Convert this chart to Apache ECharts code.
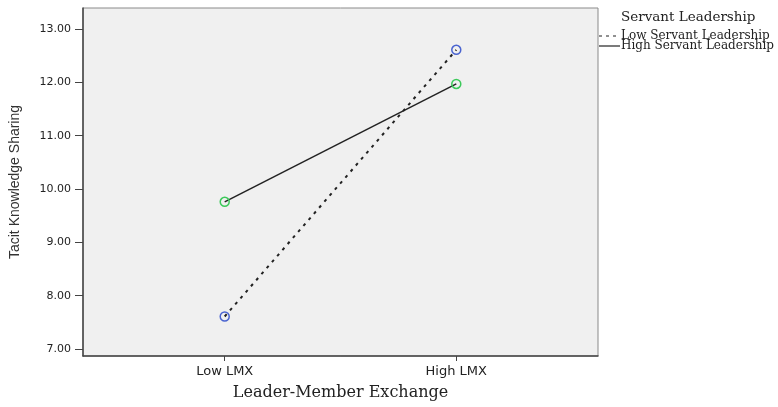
<!DOCTYPE html>
<html>
<head>
<meta charset="utf-8">
<script src="https://cdn.jsdelivr.net/npm/echarts@6/dist/echarts.min.js"></script>
<style>html,body{margin:0;padding:0;background:#fff}#c{width:778px;height:407px}</style>
</head>
<body>
<div id="c"></div>
<script>
const categories = ['Low LMX', 'High LMX'];
const lowServant = [7.61, 12.61];
const highServant = [9.76, 11.97];
const yTicks = [7, 8, 9, 10, 11, 12, 13];
const seriesNames = ['Low Servant Leadership', 'High Servant Leadership'];

const chart = echarts.init(document.getElementById('c'), null, {renderer: 'canvas'});
const toPts = arr => arr.map((v, i) => [i, v]);
const xTickVals = categories.map((c, i) => i);

const serif = 'DejaVu Serif';
chart.setOption({
  animation: false,
  backgroundColor: '#ffffff',
  grid: {left: 82, right: 180, top: 8, bottom: 51, show: true, backgroundColor: '#f0f0f0', borderColor: '#8a8a8a', borderWidth: 1},
  xAxis: {
    type: 'value', min: -0.612, max: 1.612,
    name: 'Leader-Member Exchange', nameLocation: 'middle', nameGap: 29,
    nameTextStyle: {fontFamily: serif, fontSize: 16, color: '#222'},
    axisLine: {show: true, onZero: false, lineStyle: {color: '#444', width: 1.5}},
    axisTick: {show: true, customValues: xTickVals, length: 5, lineStyle: {color: '#444'}},
    axisLabel: {customValues: xTickVals, formatter: v => categories[Math.round(v)], fontFamily: 'DejaVu Sans', fontSize: 13, color: '#222', margin: 9},
    splitLine: {show: false}
  },
  yAxis: {
    type: 'value', min: 6.869, max: 13.394,
    name: 'Tacit Knowledge Sharing', nameLocation: 'middle', nameGap: 61, nameRotate: 90,
    nameTextStyle: {fontFamily: 'Liberation Sans', fontSize: 14, color: '#333'},
    axisLine: {show: true, onZero: false, lineStyle: {color: '#444', width: 1.5}},
    axisTick: {show: true, customValues: yTicks, length: 8, lineStyle: {color: '#444'}},
    axisLabel: {customValues: yTicks, formatter: v => v.toFixed(2), fontFamily: 'DejaVu Sans', fontSize: 11, color: '#222', margin: 12},
    splitLine: {show: false}
  },
  series: [
    {
      name: seriesNames[0], type: 'line', data: toPts(lowServant),
      symbol: 'circle', symbolSize: 9,
      itemStyle: {color: 'rgba(0,0,0,0)', borderColor: '#4a64d0', borderWidth: 1.5},
      lineStyle: {color: '#222', width: 2, type: [3, 5]}
    },
    {
      name: seriesNames[1], type: 'line', data: toPts(highServant),
      symbol: 'circle', symbolSize: 9,
      itemStyle: {color: 'rgba(0,0,0,0)', borderColor: '#3cc95a', borderWidth: 1.5},
      lineStyle: {color: '#222', width: 1.5}
    }
  ],
  graphic: [
    {type: 'text', left: 621, top: 10, style: {text: 'Servant Leadership', font: '13.5px "DejaVu Serif"', fill: '#222'}},
    {type: 'line', shape: {x1: 599, y1: 36, x2: 620, y2: 36}, style: {stroke: '#222', lineWidth: 1.2, lineDash: [3, 4]}},
    {type: 'text', left: 621, top: 30, style: {text: seriesNames[0], font: '12px "DejaVu Serif"', fill: '#222'}},
    {type: 'line', shape: {x1: 599, y1: 46, x2: 620, y2: 46}, style: {stroke: '#222', lineWidth: 1.2}},
    {type: 'text', left: 621, top: 40, style: {text: seriesNames[1], font: '12px "DejaVu Serif"', fill: '#222'}}
  ]
});
</script>
</body>
</html>
